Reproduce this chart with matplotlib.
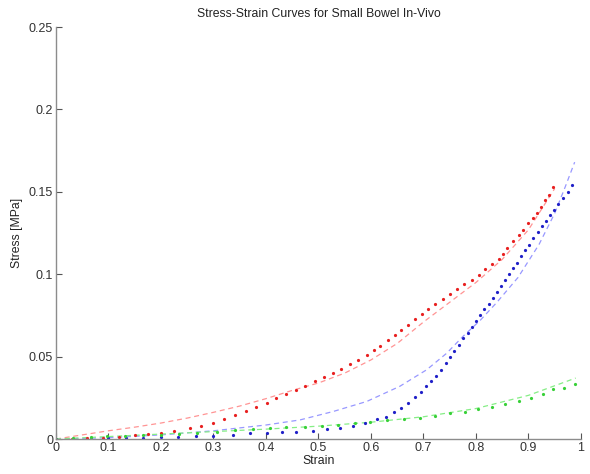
import numpy as np
import matplotlib.pyplot as plt

plt.rcParams['font.family'] = ['Liberation Sans', 'DejaVu Sans']

# Measured points (strain, stress [MPa]) for the three specimens
strain_red = [0.0, 0.03, 0.06, 0.09, 0.12, 0.15, 0.175, 0.2, 0.225, 0.255, 0.277,
              0.299, 0.32, 0.341, 0.362, 0.381, 0.401, 0.42, 0.439, 0.458, 0.474,
              0.493, 0.51, 0.527, 0.542, 0.56, 0.576, 0.592, 0.606, 0.618, 0.633,
              0.646, 0.658, 0.671, 0.684, 0.697, 0.709, 0.722, 0.737, 0.75, 0.764,
              0.778, 0.792, 0.805, 0.818, 0.83, 0.843, 0.852, 0.86, 0.87, 0.881,
              0.89, 0.9, 0.908, 0.916, 0.924, 0.932, 0.939, 0.946]
stress_red = [0.0, 0.0002, 0.0005, 0.0009, 0.0015, 0.0022, 0.003, 0.0039, 0.0049,
              0.0065, 0.0079, 0.0099, 0.0124, 0.0146, 0.017, 0.0197, 0.0217, 0.0248,
              0.0272, 0.030, 0.0323, 0.035, 0.0376, 0.040, 0.0425, 0.0455, 0.048,
              0.0508, 0.0543, 0.0567, 0.060, 0.063, 0.066, 0.069, 0.0726, 0.0756,
              0.0787, 0.082, 0.085, 0.088, 0.091, 0.094, 0.0965, 0.0994, 0.103,
              0.106, 0.109, 0.112, 0.116, 0.120, 0.124, 0.127, 0.131, 0.134, 0.137,
              0.141, 0.145, 0.148, 0.153]

strain_blue = [0.0, 0.033, 0.066, 0.1, 0.133, 0.166, 0.2, 0.233, 0.266, 0.3, 0.338,
               0.37, 0.401, 0.43, 0.458, 0.489, 0.516, 0.541, 0.566, 0.589, 0.612,
               0.629, 0.644, 0.658, 0.671, 0.684, 0.695, 0.705, 0.714, 0.724, 0.733,
               0.742, 0.75, 0.759, 0.768, 0.776, 0.784, 0.792, 0.8, 0.808, 0.816,
               0.824, 0.832, 0.84, 0.847, 0.855, 0.863, 0.871, 0.879, 0.886, 0.893,
               0.901, 0.909, 0.918, 0.926, 0.934, 0.941, 0.949, 0.957, 0.966, 0.975,
               0.982]
stress_blue = [0.0, 0.0002, 0.0003, 0.0005, 0.0007, 0.0009, 0.0012, 0.0015, 0.0018,
               0.0021, 0.0024, 0.0035, 0.0039, 0.0042, 0.0045, 0.0051, 0.0061, 0.0069,
               0.0081, 0.0099, 0.012, 0.0136, 0.0163, 0.019, 0.022, 0.0254, 0.0287,
               0.0323, 0.0355, 0.0384, 0.042, 0.046, 0.0496, 0.0535, 0.0573, 0.061,
               0.0644, 0.068, 0.0715, 0.075, 0.0787, 0.0822, 0.0858, 0.0893, 0.0929,
               0.0965, 0.100, 0.1035, 0.107, 0.111, 0.1146, 0.118, 0.122, 0.1255,
               0.129, 0.1325, 0.136, 0.139, 0.1427, 0.146, 0.150, 0.154]

strain_green = [0.0, 0.033, 0.066, 0.097, 0.131, 0.166, 0.2, 0.234, 0.268, 0.306,
                0.341, 0.376, 0.408, 0.439, 0.474, 0.506, 0.538, 0.57, 0.599, 0.631,
                0.663, 0.693, 0.722, 0.75, 0.779, 0.804, 0.83, 0.855, 0.881, 0.904,
                0.927, 0.947, 0.968, 0.989]
stress_green = [0.0, 0.0005, 0.001, 0.0018, 0.0018, 0.0024, 0.0025, 0.0032, 0.0039,
                0.0045, 0.0055, 0.0059, 0.0069, 0.0075, 0.0071, 0.0079, 0.0085,
                0.0099, 0.0106, 0.0116, 0.0124, 0.013, 0.0142, 0.0157, 0.0166, 0.018,
                0.0193, 0.021, 0.0232, 0.0248, 0.0272, 0.0305, 0.0309, 0.0333]

# Fitted model curves
fit_strain_red = [0.0, 0.05, 0.1, 0.15, 0.2, 0.25, 0.3, 0.35, 0.4, 0.45, 0.5, 0.55,
                  0.6, 0.65, 0.7, 0.75, 0.8, 0.85, 0.9, 0.95]
fit_stress_red = [0.0, 0.0025, 0.005, 0.0072, 0.0097, 0.0127, 0.0162, 0.020, 0.0245,
                  0.0295, 0.034, 0.040, 0.048, 0.058, 0.071, 0.083, 0.095, 0.109,
                  0.127, 0.152]

fit_strain_blue = [0.0, 0.1, 0.2, 0.3, 0.4, 0.465, 0.528, 0.592, 0.655, 0.706, 0.744,
                   0.776, 0.808, 0.84, 0.88, 0.92, 0.95, 0.97, 0.988]
fit_stress_blue = [0.0, 0.0008, 0.0025, 0.005, 0.0085, 0.0116, 0.0167, 0.0228, 0.032,
                   0.042, 0.052, 0.0625, 0.072, 0.083, 0.098, 0.118, 0.137, 0.153,
                   0.168]

fit_strain_green = [0.0, 0.1, 0.2, 0.3, 0.4, 0.5, 0.6, 0.7, 0.8, 0.9, 0.99]
fit_stress_green = [0.0, 0.0015, 0.003, 0.0045, 0.006, 0.0078, 0.0102, 0.0135,
                    0.0185, 0.0265, 0.037]

fig = plt.figure(figsize=(5.9, 4.74), dpi=100)
ax = fig.add_axes([0.0949, 0.0738, 0.8898, 0.8692])

# dashed fit curves underneath the measured dots
dash = (0, (4, 3))
ax.plot(fit_strain_red, fit_stress_red, color='#ff9494', ls=dash, lw=0.9)
ax.plot(fit_strain_blue, fit_stress_blue, color='#9898ff', ls=dash, lw=0.9)
ax.plot(fit_strain_green, fit_stress_green, color='#86ee86', ls=dash, lw=0.9)

ax.plot(strain_red, stress_red, ls='none', marker='o', ms=2.3, mew=0, color='#e82020')
ax.plot(strain_blue, stress_blue, ls='none', marker='o', ms=2.3, mew=0, color='#2020c8')
ax.plot(strain_green, stress_green, ls='none', marker='o', ms=2.3, mew=0, color='#38d038')

ax.set_xlim(0, 1)
ax.set_ylim(0, 0.25)
ax.set_xticks(np.arange(0, 1.01, 0.1))
ax.set_xticklabels(['0', '0.1', '0.2', '0.3', '0.4', '0.5', '0.6', '0.7', '0.8', '0.9', '1'])
ax.set_yticks([0, 0.05, 0.1, 0.15, 0.2, 0.25])
ax.set_yticklabels(['0', '0.05', '0.1', '0.15', '0.2', '0.25'])

for s in ['top', 'right']:
    ax.spines[s].set_visible(False)
for s in ['left', 'bottom']:
    ax.spines[s].set_color('#8c8c8c')
    ax.spines[s].set_linewidth(1.0)
ax.tick_params(direction='in', length=4, width=0.8, color='#555555',
               labelsize=9, labelcolor='#333333', pad=2)

ax.set_title('Stress-Strain Curves for Small Bowel In-Vivo', fontsize=8.8,
             color='#222222', pad=7)
ax.set_xlabel('Strain', fontsize=8.8, color='#222222', labelpad=1)
ax.set_ylabel('Stress [MPa]', fontsize=8.8, color='#222222', labelpad=4)

fig.savefig('out.png', dpi=100)
